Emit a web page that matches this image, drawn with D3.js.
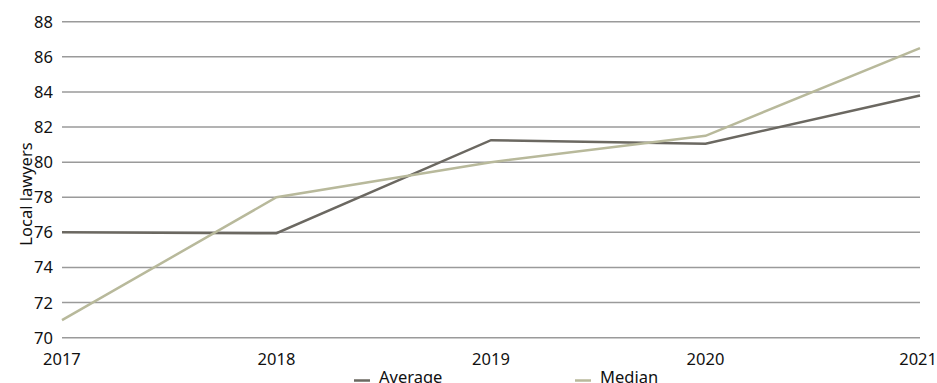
<!DOCTYPE html>
<html><head><meta charset="utf-8">
<script src="https://cdn.jsdelivr.net/npm/d3@7"></script>
<style>body{margin:0;background:#fff;} svg{display:block;} text{font-family:"Noto Sans",sans-serif;fill:#111;}</style>
</head><body><svg id="c" width="937" height="383"></svg>
<script>
const years = [2017, 2018, 2019, 2020, 2021];
const average = [76.0, 75.95, 81.25, 81.05, 83.8];
const median = [71.0, 78.0, 80.0, 81.5, 86.5];
const yTicks = [70, 72, 74, 76, 78, 80, 82, 84, 86, 88];
const seriesNames = ["Average", "Median"];
const colors = ["#6b6861", "#b8b99b"];

const svg = d3.select("#c");
const m = {l: 62, r: 17, t: 21.7, b: 45.3};
const W = 937, H = 383;
const x = d3.scaleLinear().domain([2017, 2021]).range([m.l, W - m.r]);
const y = d3.scaleLinear().domain([70, 88]).range([H - m.b, m.t]);

// gridlines
svg.append("g").selectAll("line").data(yTicks).join("line")
  .attr("x1", m.l).attr("x2", W - m.r)
  .attr("y1", d => y(d)).attr("y2", d => y(d))
  .attr("stroke", "#9a9a9a").attr("stroke-width", 1.5);

// y labels
svg.append("g").selectAll("text").data(yTicks).join("text")
  .attr("x", 53).attr("y", d => y(d)).attr("dy", "0.36em")
  .attr("text-anchor", "end").attr("font-size", 16.5).text(d => d);

// x labels
svg.append("g").selectAll("text").data(years).join("text")
  .attr("x", d => x(d)).attr("y", 365)
  .attr("text-anchor", (d, i) => i === years.length - 1 ? "end" : (i === 0 ? "start" : "middle"))
  .attr("dx", (d, i) => i === 0 ? -19 : (i === years.length - 1 ? 17 : 0))
  .attr("font-size", 16.5).text(d => d);

// axis title
svg.append("text").attr("transform", "translate(32,194) rotate(-90)")
  .attr("text-anchor", "middle").attr("font-size", 16.5).text("Local lawyers");

const line = d3.line().x((d, i) => x(years[i])).y(d => y(d));
[average, median].forEach((s, k) => {
  svg.append("path").datum(s).attr("d", line).attr("fill", "none")
    .attr("stroke", colors[k]).attr("stroke-width", 2.5).attr("stroke-linejoin", "miter");
});

// legend
const legX = [354, 575];
seriesNames.forEach((n, k) => {
  svg.append("line").attr("x1", legX[k]).attr("x2", legX[k] + 16)
    .attr("y1", 380.5).attr("y2", 380.5).attr("stroke", colors[k]).attr("stroke-width", 2.5);
  svg.append("text").attr("x", legX[k] + 25).attr("y", 383).attr("font-size", 16.5).text(n);
});
</script></body></html>
